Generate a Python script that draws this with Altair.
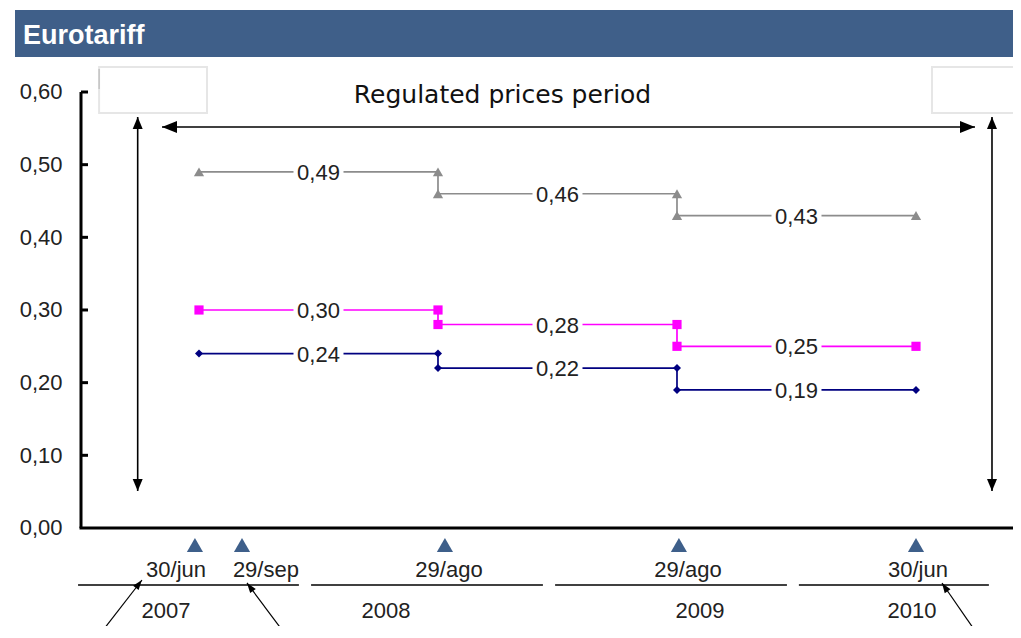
import altair as alt
import pandas as pd

# ---------------- data ----------------
series_names = ["Retail call made", "Wholesale", "Retail call received"]
series_colors = ["#8c8c8c", "#ff00ff", "#000080"]
series_shapes = ["triangle-up", "square", "diamond"]
series_sizes = [105, 64, 72]
made = [0.49, 0.46, 0.43]
wholesale = [0.30, 0.28, 0.25]
received = [0.24, 0.22, 0.19]
nodes = [0, 1, 2, 3]  # 30/jun/2007, 29/ago/2008, 29/ago/2009, 30/jun/2010

y_tick_values = [0.0, 0.1, 0.2, 0.3, 0.4, 0.5, 0.6]

date_labels = ["30/jun", "29/sep", "29/ago", "29/ago", "30/jun"]
date_marker_x = [-0.017, 0.18, 1.029, 2.008, 3.0]
date_label_x = [-0.096, 0.28, 1.046, 2.046, 3.008]
year_labels = ["2007", "2008", "2009", "2010"]
year_label_x = [-0.138, 0.782, 2.096, 2.983]
year_line_x = [-0.506, 0.469, 1.49, 2.51]
year_line_x2 = [0.418, 1.439, 2.46, 3.305]

title_text = "Eurotariff"
period_text = "Regulated prices period"

# ---------------- build tables ----------------
rows = []
for name, vals in zip(series_names, [made, wholesale, received]):
    order = 0
    for i, v in enumerate(vals):
        for xn in (nodes[i], nodes[i + 1]):
            rows.append({"series": name, "x": xn, "y": v, "order": order})
            order += 1
steps = pd.DataFrame(rows)

lab_rows = []
for name, vals in zip(series_names, [made, wholesale, received]):
    for i, v in enumerate(vals):
        lab_rows.append({"series": name, "x": nodes[i] + 0.5, "y": v,
                         "text": f"{v:.2f}".replace(".", ",")})
labels = pd.DataFrame(lab_rows)

xscale = alt.Scale(domain=[-0.4937, 3.4059], nice=False, zero=False)
yscale = alt.Scale(domain=[-0.1349, 0.7156], nice=False, zero=False)
yaxis = alt.Axis(values=y_tick_values, domain=False, ticks=False, grid=False,
                 title=None, labelFont="Liberation Sans", labelFontSize=22,
                 labelColor="#222222", labelPadding=19,
                 labelExpr="replace(format(datum.value, '.2f'), '.', ',')")

def X(f):
    return alt.X(f, type="quantitative", scale=xscale, axis=None)

def Y(f):
    return alt.Y(f, type="quantitative", scale=yscale, axis=yaxis)

color = alt.Color("series:N", scale=alt.Scale(domain=series_names, range=series_colors), legend=None)
shape = alt.Shape("series:N", scale=alt.Scale(domain=series_names, range=series_shapes), legend=None)
size = alt.Size("series:N", scale=alt.Scale(domain=series_names, range=series_sizes), legend=None)

# title bar
title_bg = alt.Chart(pd.DataFrame({"a": [0]})).mark_rect(color="#3f5f89").encode(
    x=alt.value(-66), x2=alt.value(945), y=alt.value(2), y2=alt.value(49))
title_txt = alt.Chart(pd.DataFrame({"t": [title_text]})).mark_text(
    align="left", baseline="alphabetic", font="Liberation Sans", fontWeight="bold",
    fontSize=27, color="white").encode(x=alt.value(-58), y=alt.value(36), text="t:N")

# empty boxes at top
boxes = pd.DataFrame({"x": [-0.418, 3.067], "x2": [0.0335, 3.5], "y": [0.6344, 0.6344], "y2": [0.5711, 0.5711]})
box_layer = alt.Chart(boxes).mark_rect(fill="white", stroke="#e6e6e6", strokeWidth=2).encode(
    x=X("x"), x2="x2", y=Y("y"), y2="y2")
artifact = alt.Chart(pd.DataFrame({"x": [-0.418], "y": [0.6316], "y2": [0.6041]})).mark_rule(
    color="#b0b0b0", strokeWidth=1).encode(x=X("x"), y=Y("y"), y2="y2")

# axis lines and ticks
yaxis_line = alt.Chart(pd.DataFrame({"y": [0.0], "y2": [0.6]})).mark_rule(
    color="black", strokeWidth=3).encode(x=alt.value(0), y=Y("y"), y2="y2")
xaxis_line = alt.Chart(pd.DataFrame({"y": [0.0]})).mark_rule(
    color="black", strokeWidth=3).encode(x=alt.value(-1.5), x2=alt.value(945), y=Y("y"))
ticks = alt.Chart(pd.DataFrame({"y": y_tick_values[1:]})).mark_rule(
    color="black", strokeWidth=3).encode(x=alt.value(0), x2=alt.value(7), y=Y("y"))

# period arrows
arrow_lines = pd.DataFrame({
    "x": [-0.1548, -0.2565, 3.318],
    "x2": [3.2469, -0.2565, 3.318],
    "y": [0.5518, 0.5656, 0.5656],
    "y2": [0.5518, 0.0509, 0.0509],
})
arrow_rules = alt.Chart(arrow_lines).mark_rule(color="black", strokeWidth=1.6).encode(
    x=X("x"), x2="x2", y=Y("y"), y2="y2")
head_left = alt.Chart(pd.DataFrame({"x": [-0.1234], "y": [0.5518]})).mark_point(
    shape="M-1,0L1,-0.8L1,0.8Z", size=225, filled=True, color="black", opacity=1).encode(x=X("x"), y=Y("y"))
head_right = alt.Chart(pd.DataFrame({"x": [3.2155], "y": [0.5518]})).mark_point(
    shape="M1,0L-1,-0.8L-1,0.8Z", size=225, filled=True, color="black", opacity=1).encode(x=X("x"), y=Y("y"))
head_up = alt.Chart(pd.DataFrame({"x": [-0.2565, 3.318], "y": [0.5573, 0.5573]})).mark_point(
    shape="M0,-1L-0.833,1L0.833,1Z", size=144, filled=True, color="black", opacity=1).encode(x=X("x"), y=Y("y"))
head_down = alt.Chart(pd.DataFrame({"x": [-0.2565, 3.318], "y": [0.0592, 0.0592]})).mark_point(
    shape="M0,1L-0.833,-1L0.833,-1Z", size=144, filled=True, color="black", opacity=1).encode(x=X("x"), y=Y("y"))
period_label = alt.Chart(pd.DataFrame({"x": [1.27], "y": [0.5849], "t": [period_text]})).mark_text(
    font="DejaVu Sans", fontSize=25, color="#111111", baseline="alphabetic", align="center").encode(
    x=X("x"), y=Y("y"), text="t:N")

# step lines
lines = alt.Chart(steps).mark_line(strokeWidth=1.7).encode(
    x=X("x"), y=Y("y"), color=color, order="order:Q", detail="series:N")
markers = alt.Chart(steps).mark_point(filled=True, opacity=1).encode(
    x=X("x"), y=Y("y"), color=color, shape=shape, size=size)
label_bg = alt.Chart(labels).mark_point(
    shape="M-1,-0.32H1V0.32H-1Z", size=2500, filled=True, color="white", opacity=1).encode(
    x=X("x"), y=Y("y"))
label_txt = alt.Chart(labels).mark_text(
    font="Liberation Sans", fontSize=22, color="#222222", baseline="middle", align="center", dy=1).encode(
    x=X("x"), y=Y("y"), text="text:N")

# bottom annotations
dates = pd.DataFrame({"x": date_marker_x, "lx": date_label_x, "t": date_labels,
                      "y": [-0.0234] * 5, "ly": [-0.0578] * 5})
date_tri = alt.Chart(dates).mark_point(shape="triangle-up", size=260, filled=True,
                                        color="#3e5f8a", opacity=1).encode(x=X("x"), y=Y("y"))
date_txt = alt.Chart(dates).mark_text(font="Liberation Sans", fontSize=22, color="#222222",
                                      baseline="middle", align="center").encode(
    x=X("lx"), y=Y("ly"), text="t:N")
year_lines = alt.Chart(pd.DataFrame({"x": year_line_x, "x2": year_line_x2, "y": [-0.0785] * 4})).mark_rule(
    color="black", strokeWidth=1.5).encode(x=X("x"), x2="x2", y=Y("y"))
years = alt.Chart(pd.DataFrame({"x": year_label_x, "y": [-0.1142] * 4, "t": year_labels})).mark_text(
    font="Liberation Sans", fontSize=22, color="#222222", baseline="middle", align="center").encode(
    x=X("x"), y=Y("y"), text="t:N")
slant = pd.DataFrame({"x": [-0.4268, 0.3724, 3.2678], "x2": [-0.2385, 0.2008, 3.1088],
                      "y": [-0.1514, -0.1514, -0.1514], "y2": [-0.0716, -0.0757, -0.0757]})
slant_rules = alt.Chart(slant).mark_rule(color="black", strokeWidth=1.2).encode(
    x=X("x"), x2="x2", y=Y("y"), y2="y2")
slant_heads = alt.Chart(pd.DataFrame({"x": [-0.2515, 0.2134, 3.1205], "y": [-0.0771, -0.0812, -0.0813],
                                      "a": [37.8, 323.3, 325.4]})).mark_point(
    shape="M0,-1L-0.7,1L0.7,1Z", size=100, filled=True, color="black", opacity=1).encode(
    x=X("x"), y=Y("y"), angle=alt.Angle("a:Q", scale=None))

chart = alt.layer(
    title_bg, title_txt, box_layer, artifact, arrow_rules, head_left, head_right, head_up, head_down,
    period_label, yaxis_line, xaxis_line, ticks, lines, label_bg, label_txt, markers,
    date_tri, date_txt, year_lines, years, slant_rules, slant_heads,
).properties(
    width=932, height=618,
    autosize=alt.AutoSizeParams(type="none"),
    padding={"left": 73, "top": 0, "right": 0, "bottom": 0},
    background="white",
).configure_view(strokeWidth=0)

chart.save("out.html", embed_options={"renderer": "svg", "actions": False})
